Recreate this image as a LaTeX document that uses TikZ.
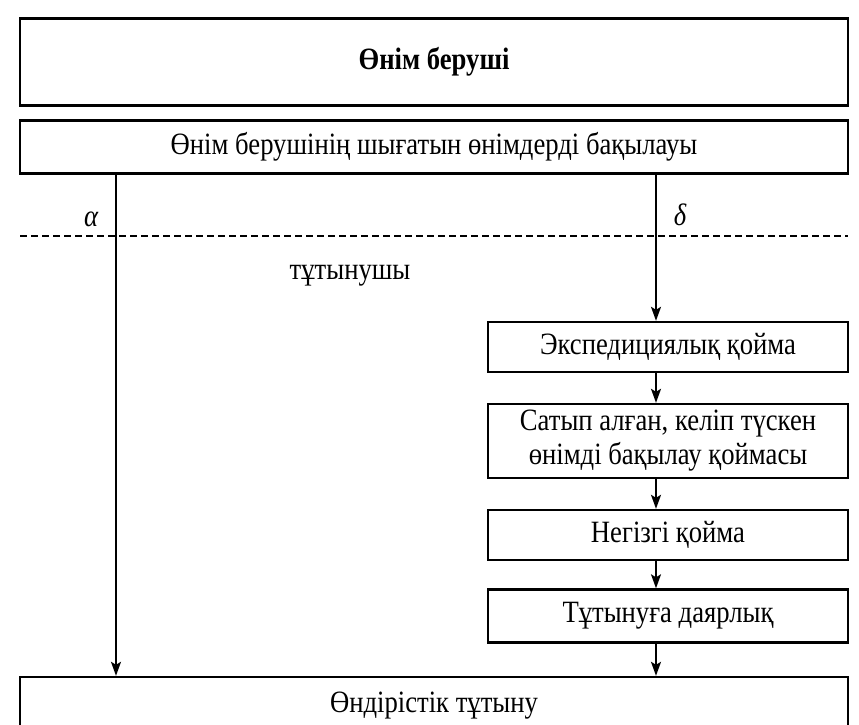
\documentclass[tikz,border=0pt]{standalone}
\usepackage{fontspec}
\setmainfont{Liberation Serif}[FakeStretch=0.86]
\usetikzlibrary{arrows.meta}
\tikzstyle{widebox}=[draw,line width=2.4pt,minimum width=828pt,inner sep=0pt,font=\fontsize{31}{34}\selectfont]
\tikzstyle{sidebox}=[draw,line width=2.4pt,minimum width=360pt,inner sep=0pt,align=center,font=\fontsize{31}{34}\selectfont]
\tikzstyle{edge} = [draw,line width=1.6pt,-{Stealth[length=14pt,width=10pt,inset=3pt]}]
\tikzstyle{plainedge} = [draw,line width=1.6pt]
\tikzstyle{label} = [font=\fontsize{31}{34}\selectfont]

\begin{document}
\begin{tikzpicture}[x=1pt,y=-1pt]

  \useasboundingbox (0,0) rectangle (859,725);

% supplier side
   \node[widebox,minimum height=87pt,font=\fontsize{31}{34}\selectfont\bfseries] (supplier) at (434,62) {Өнім беруші};
   \node[widebox,minimum height=53pt] (control) at (434,147) {Өнім берушінің шығатын өнімдерді бақылауы};

% consumer side
    \foreach \pos/\name/\h/\text in {{(668,347)/exped/50/Экспедициялық қойма},
        {(668,441)/incoming/74/Сатып алған, келіп түскен\\өнімді бақылау қоймасы},
        {(668,535)/mainstore/50/Негізгі қойма},
        {(668,616)/prep/53/Тұтынуға даярлық}}
    	\node[sidebox,minimum height=\h pt] (\name) at \pos {\text};

   \node[widebox,minimum height=58pt] (use) at (434,706) {Өндірістік тұтыну};

    % columns of the two flows
    \coordinate (lx) at (116,0);
    \coordinate (rx) at (656,0);

    \path[edge] (control.south -| lx) -- (use.north -| lx);
    \path[edge] (control.south -| rx) -- (exped.north -| rx);

    \foreach \source/ \dest in {exped/incoming, incoming/mainstore, mainstore/prep, prep/use}
        \path[edge] (\source.south -| rx) -- (\dest.north -| rx);

% border between supplier and consumer
    \coordinate (dl) at (20,236);
    \coordinate (dr) at (848,236);
    \path[plainedge,line width=2.4pt,dash pattern=on 7pt off 4pt] (dl) -- (dr);

% Label
  \node[label] (alpha) at (91,219) {\itshape α};
  \node[label] (delta) at (680,215) {\itshape δ};
  \node[label] (consumer) at (350,276) {тұтынушы};

\end{tikzpicture}
\end{document}
